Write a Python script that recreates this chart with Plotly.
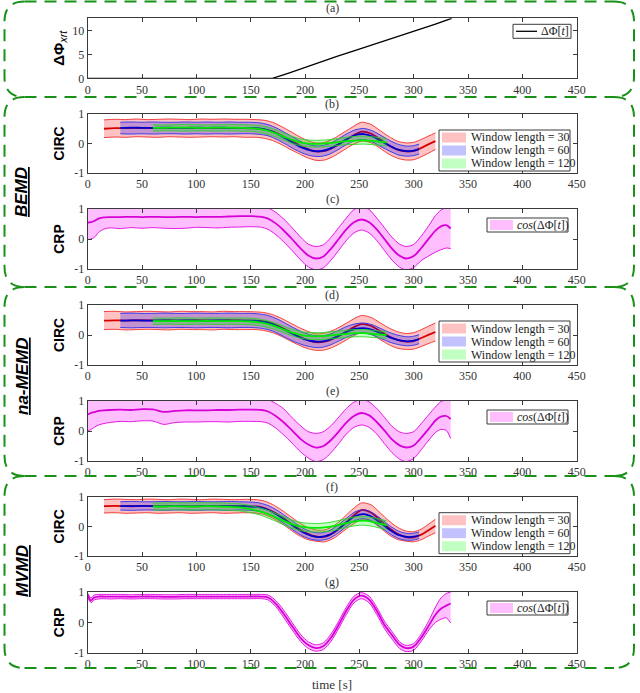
import plotly.graph_objects as go

W, H = 640, 693

# ---------------- data ----------------
x_ticks = [0, 50, 100, 150, 200, 250, 300, 350, 400, 450]
corr_ticks = [-1, 0, 1]
corr_ticktext = ['-1', '0', '1']
phase_ticks = [0, 5, 10]
panel_tags = ['(a)', '(b)', '(c)', '(d)', '(e)', '(f)', '(g)']
methods = ['BEMD', 'na-MEMD', 'MVMD']
window_names = ['Window length = 30', 'Window length = 60', 'Window length = 120']

# (a) phase difference
t_phase = [0, 170, 185, 200, 215, 230, 245, 260, 275, 290, 305, 320, 335]
dphi_xrt = [0, 0, 1.1, 2.3, 3.4, 4.6, 5.7, 6.8, 7.9, 9.0, 10.2, 11.3, 12.5]

# time grids of the windowed CIRC curves
t_w30 = [15, 25, 35, 45, 55, 65, 75, 85, 95, 105, 115, 125, 135, 145, 155, 162, 170, 178,
         186, 194, 202, 210, 218, 226, 234, 242, 252, 261, 269, 277, 285, 293, 300, 307, 314, 320]
t_w60 = [30, 40, 50, 60, 70, 80, 90, 100, 110, 120, 130, 140, 150, 158, 166, 174, 182,
         190, 198, 206, 214, 222, 230, 238, 246, 254, 262, 270, 278, 286, 294, 300, 305]
t_w120 = [60, 70, 80, 90, 100, 110, 120, 130, 140, 150, 158, 166, 174, 182, 190, 198,
          206, 214, 222, 230, 238, 246, 254, 262, 270, 275]
# time grid of CRP
t_crp = [0, 3, 6, 10, 15, 20, 30, 40, 50, 60, 70, 80, 90, 100, 110, 120, 130, 140, 150, 160,
         166, 173, 180, 188, 196, 203, 210, 217, 224, 231, 238, 245, 252, 259, 266, 273, 280,
         287, 293, 300, 307, 314, 320, 325, 330, 334]

# ---- BEMD ----
bemd_w30_mean = [0.50, 0.52, 0.52, 0.53, 0.52, 0.52, 0.53, 0.53, 0.52, 0.52, 0.53, 0.53, 0.53, 0.52, 0.51,
                 0.48, 0.41, 0.28, 0.12, -0.04, -0.18, -0.27, -0.25, -0.13, 0.04, 0.22, 0.40, 0.33, 0.14,
                 -0.06, -0.21, -0.27, -0.25, -0.15, -0.02, 0.08]
bemd_w30_hi = [0.80, 0.82, 0.81, 0.83, 0.81, 0.82, 0.83, 0.82, 0.81, 0.83, 0.82, 0.83, 0.82, 0.82, 0.81,
               0.79, 0.72, 0.58, 0.42, 0.25, 0.10, 0.02, 0.04, 0.16, 0.34, 0.52, 0.72, 0.64, 0.44,
               0.24, 0.08, 0.02, 0.04, 0.14, 0.26, 0.36]
bemd_w30_lo = [0.20, 0.22, 0.21, 0.23, 0.22, 0.21, 0.23, 0.22, 0.21, 0.22, 0.23, 0.22, 0.23, 0.21, 0.21,
               0.18, 0.10, -0.03, -0.19, -0.34, -0.48, -0.57, -0.56, -0.44, -0.26, -0.08, 0.08, 0.02,
               -0.16, -0.36, -0.50, -0.56, -0.55, -0.45, -0.32, -0.20]
bemd_w60_mean = [0.53, 0.54, 0.53, 0.53, 0.54, 0.53, 0.53, 0.54, 0.53, 0.54, 0.53, 0.53, 0.53,
                 0.51, 0.45, 0.33, 0.17, 0.00, -0.15, -0.24, -0.26, -0.19, -0.04, 0.14, 0.28, 0.32,
                 0.24, 0.08, -0.08, -0.21, -0.26, -0.24, -0.19]
bemd_w60_hi = [0.72, 0.73, 0.72, 0.73, 0.72, 0.72, 0.73, 0.72, 0.73, 0.72, 0.73, 0.72, 0.72,
               0.70, 0.64, 0.52, 0.36, 0.19, 0.04, -0.06, -0.08, -0.01, 0.14, 0.32, 0.46, 0.51,
               0.43, 0.27, 0.10, -0.03, -0.09, -0.07, -0.02]
bemd_w60_lo = [0.33, 0.32, 0.33, 0.32, 0.33, 0.33, 0.32, 0.33, 0.32, 0.33, 0.32, 0.33, 0.33,
               0.31, 0.26, 0.14, -0.02, -0.19, -0.33, -0.42, -0.44, -0.37, -0.22, -0.04, 0.10, 0.13,
               0.05, -0.11, -0.26, -0.39, -0.43, -0.41, -0.36]
bemd_w120_mean = [0.53, 0.53, 0.54, 0.54, 0.53, 0.53, 0.54, 0.54, 0.53, 0.52, 0.49, 0.43, 0.33,
                  0.21, 0.10, 0.02, -0.01, -0.01, 0.01, 0.05, 0.08, 0.10, 0.11, 0.09, 0.06, 0.04]
bemd_w120_hi = [0.64, 0.63, 0.64, 0.65, 0.64, 0.63, 0.64, 0.65, 0.64, 0.63, 0.61, 0.55, 0.45,
                0.33, 0.22, 0.14, 0.11, 0.11, 0.13, 0.17, 0.21, 0.24, 0.25, 0.23, 0.19, 0.17]
bemd_w120_lo = [0.42, 0.43, 0.43, 0.42, 0.43, 0.43, 0.42, 0.43, 0.42, 0.41, 0.37, 0.31, 0.21,
                0.09, -0.02, -0.09, -0.12, -0.12, -0.10, -0.07, -0.04, -0.03, -0.02, -0.04, -0.07, -0.09]
bemd_crp_mean = [0.55, 0.56, 0.60, 0.68, 0.72, 0.73, 0.73, 0.74, 0.73, 0.74, 0.73, 0.73, 0.74, 0.73,
                 0.74, 0.74, 0.75, 0.76, 0.76, 0.74, 0.68, 0.52, 0.30, 0.00, -0.32, -0.55, -0.65,
                 -0.58, -0.32, 0.00, 0.32, 0.56, 0.65, 0.56, 0.32, 0.00, -0.32, -0.56, -0.65, -0.57,
                 -0.30, 0.02, 0.28, 0.42, 0.46, 0.35]
bemd_crp_hi = [1.10, 1.10, 1.12, 1.14, 1.12, 1.10, 1.11, 1.10, 1.10, 1.11, 1.10, 1.11, 1.10, 1.10,
               1.11, 1.12, 1.12, 1.12, 1.11, 1.10, 1.04, 0.89, 0.68, 0.38, 0.06, -0.17, -0.25,
               -0.19, 0.06, 0.38, 0.70, 0.98, 1.06, 0.98, 0.70, 0.38, 0.06, -0.17, -0.25, -0.18,
               0.10, 0.45, 0.78, 0.96, 1.05, 1.05]
bemd_crp_lo = [-0.02, 0.00, 0.05, 0.22, 0.33, 0.37, 0.35, 0.38, 0.36, 0.38, 0.36, 0.35, 0.36, 0.39,
               0.38, 0.37, 0.39, 0.40, 0.41, 0.39, 0.32, 0.15, -0.08, -0.38, -0.70, -0.93, -1.03,
               -0.96, -0.70, -0.38, -0.05, 0.20, 0.30, 0.20, -0.05, -0.38, -0.70, -0.94, -1.03,
               -0.95, -0.72, -0.56, -0.44, -0.36, -0.30, -0.32]

# ---- na-MEMD ----
namemd_w30_mean = [0.48, 0.49, 0.48, 0.49, 0.49, 0.48, 0.49, 0.48, 0.49, 0.49, 0.48, 0.49, 0.49, 0.48, 0.48,
                   0.45, 0.38, 0.26, 0.11, -0.04, -0.16, -0.24, -0.22, -0.12, 0.03, 0.20, 0.36, 0.30,
                   0.13, -0.04, -0.16, -0.22, -0.20, -0.10, 0.01, 0.10]
namemd_w30_hi = [0.78, 0.79, 0.77, 0.78, 0.79, 0.78, 0.77, 0.79, 0.78, 0.78, 0.77, 0.79, 0.78, 0.78, 0.77,
                 0.75, 0.68, 0.56, 0.41, 0.26, 0.13, 0.04, 0.06, 0.16, 0.31, 0.48, 0.65, 0.58, 0.41,
                 0.24, 0.11, 0.05, 0.08, 0.18, 0.30, 0.40]
namemd_w30_lo = [0.18, 0.19, 0.17, 0.18, 0.19, 0.18, 0.17, 0.19, 0.18, 0.18, 0.17, 0.19, 0.18, 0.18, 0.18,
                 0.15, 0.08, -0.04, -0.19, -0.33, -0.45, -0.51, -0.50, -0.40, -0.25, -0.08, 0.08, 0.02,
                 -0.15, -0.32, -0.44, -0.48, -0.47, -0.38, -0.28, -0.20]
namemd_w60_mean = [0.48, 0.49, 0.48, 0.48, 0.49, 0.48, 0.49, 0.48, 0.48, 0.49, 0.48, 0.48, 0.48,
                   0.46, 0.41, 0.30, 0.16, 0.01, -0.12, -0.20, -0.22, -0.16, -0.04, 0.10, 0.20, 0.23,
                   0.17, 0.05, -0.08, -0.17, -0.21, -0.19, -0.14]
namemd_w60_hi = [0.72, 0.73, 0.72, 0.72, 0.73, 0.72, 0.72, 0.73, 0.72, 0.72, 0.73, 0.72, 0.72,
                 0.70, 0.65, 0.54, 0.39, 0.23, 0.09, 0.00, -0.03, 0.02, 0.14, 0.28, 0.37, 0.40,
                 0.34, 0.21, 0.08, -0.01, -0.06, -0.04, 0.01]
namemd_w60_lo = [0.25, 0.24, 0.25, 0.25, 0.24, 0.25, 0.25, 0.24, 0.25, 0.25, 0.24, 0.25, 0.25,
                 0.23, 0.18, 0.07, -0.08, -0.22, -0.33, -0.40, -0.42, -0.35, -0.22, -0.08, 0.03, 0.06,
                 0.00, -0.12, -0.24, -0.32, -0.36, -0.34, -0.29]
namemd_w120_mean = [0.46, 0.46, 0.47, 0.46, 0.46, 0.47, 0.46, 0.46, 0.46, 0.45, 0.42, 0.36, 0.27,
                    0.16, 0.06, -0.01, -0.04, -0.04, -0.02, 0.01, 0.04, 0.06, 0.06, 0.04, 0.01, 0.00]
namemd_w120_hi = [0.57, 0.56, 0.57, 0.57, 0.56, 0.57, 0.57, 0.56, 0.57, 0.56, 0.53, 0.47, 0.38,
                  0.27, 0.17, 0.10, 0.08, 0.08, 0.10, 0.13, 0.16, 0.18, 0.18, 0.16, 0.13, 0.11]
namemd_w120_lo = [0.35, 0.36, 0.36, 0.35, 0.36, 0.36, 0.35, 0.36, 0.35, 0.34, 0.31, 0.25, 0.16,
                  0.05, -0.05, -0.12, -0.15, -0.15, -0.13, -0.11, -0.08, -0.06, -0.06, -0.08, -0.10, -0.11]
namemd_crp_mean = [0.55, 0.60, 0.63, 0.67, 0.69, 0.70, 0.71, 0.70, 0.73, 0.72, 0.64, 0.67, 0.69, 0.69,
                   0.69, 0.70, 0.70, 0.71, 0.71, 0.70, 0.65, 0.50, 0.30, 0.02, -0.27, -0.45, -0.55,
                   -0.50, -0.30, -0.02, 0.28, 0.50, 0.60, 0.52, 0.30, 0.02, -0.28, -0.48, -0.55, -0.48,
                   -0.22, 0.08, 0.35, 0.48, 0.50, 0.40]
namemd_crp_hi = [1.10, 1.12, 1.12, 1.11, 1.10, 1.10, 1.11, 1.10, 1.12, 1.11, 1.06, 1.08, 1.10, 1.10,
                 1.10, 1.11, 1.10, 1.11, 1.11, 1.10, 1.05, 0.92, 0.75, 0.45, 0.17, -0.02, -0.08,
                 -0.02, 0.18, 0.46, 0.75, 0.96, 1.05, 0.97, 0.75, 0.46, 0.16, -0.03, -0.08, -0.02,
                 0.25, 0.55, 0.80, 0.98, 1.05, 1.05]
namemd_crp_lo = [0.00, 0.05, 0.12, 0.20, 0.25, 0.28, 0.32, 0.31, 0.34, 0.33, 0.22, 0.28, 0.30, 0.30,
                 0.31, 0.31, 0.30, 0.32, 0.32, 0.31, 0.26, 0.10, -0.12, -0.40, -0.70, -0.90, -1.02,
                 -0.95, -0.72, -0.42, -0.10, 0.12, 0.20, 0.12, -0.10, -0.42, -0.72, -0.94, -1.02,
                 -0.92, -0.62, -0.30, -0.05, 0.05, 0.02, -0.25]

# ---- MVMD ----
mvmd_w30_mean = [0.68, 0.69, 0.68, 0.68, 0.69, 0.68, 0.68, 0.69, 0.68, 0.68, 0.69, 0.68, 0.68, 0.68, 0.67,
                 0.62, 0.50, 0.33, 0.12, -0.08, -0.24, -0.34, -0.35, -0.22, 0.00, 0.28, 0.55, 0.46,
                 0.21, -0.05, -0.25, -0.36, -0.37, -0.28, -0.12, 0.02]
mvmd_w30_hi = [0.90, 0.92, 0.91, 0.90, 0.92, 0.91, 0.90, 0.92, 0.91, 0.90, 0.92, 0.91, 0.90, 0.91, 0.90,
               0.86, 0.74, 0.56, 0.35, 0.14, -0.03, -0.12, -0.12, 0.01, 0.24, 0.52, 0.79, 0.72,
               0.46, 0.19, -0.03, -0.16, -0.18, -0.09, 0.08, 0.24]
mvmd_w30_lo = [0.45, 0.46, 0.44, 0.45, 0.46, 0.44, 0.45, 0.46, 0.44, 0.45, 0.46, 0.44, 0.45, 0.46, 0.45,
               0.40, 0.28, 0.11, -0.10, -0.30, -0.44, -0.50, -0.52, -0.41, -0.20, 0.02, 0.22, 0.16,
               -0.04, -0.28, -0.44, -0.50, -0.52, -0.45, -0.32, -0.22]
mvmd_w60_mean = [0.68, 0.68, 0.69, 0.68, 0.68, 0.69, 0.68, 0.68, 0.69, 0.68, 0.68, 0.68, 0.67,
                 0.64, 0.55, 0.40, 0.20, -0.01, -0.20, -0.32, -0.36, -0.29, -0.11, 0.13, 0.34, 0.41,
                 0.31, 0.10, -0.12, -0.29, -0.36, -0.35, -0.30]
mvmd_w60_hi = [0.83, 0.84, 0.83, 0.83, 0.84, 0.83, 0.83, 0.84, 0.83, 0.83, 0.84, 0.83, 0.82,
               0.79, 0.70, 0.55, 0.35, 0.14, -0.06, -0.18, -0.22, -0.15, 0.03, 0.27, 0.49, 0.56,
               0.46, 0.25, 0.02, -0.16, -0.24, -0.23, -0.19]
mvmd_w60_lo = [0.55, 0.54, 0.55, 0.55, 0.54, 0.55, 0.55, 0.54, 0.55, 0.55, 0.54, 0.55, 0.54,
               0.50, 0.41, 0.26, 0.06, -0.15, -0.33, -0.44, -0.47, -0.41, -0.24, -0.01, 0.20, 0.26,
               0.17, -0.04, -0.25, -0.41, -0.47, -0.46, -0.41]
mvmd_w120_mean = [0.67, 0.67, 0.68, 0.67, 0.67, 0.68, 0.67, 0.66, 0.64, 0.58, 0.51, 0.41, 0.29,
                  0.16, 0.05, -0.02, -0.05, -0.05, -0.02, 0.04, 0.11, 0.17, 0.19, 0.15, 0.08, 0.04]
mvmd_w120_hi = [0.79, 0.79, 0.80, 0.79, 0.79, 0.80, 0.79, 0.78, 0.76, 0.70, 0.63, 0.54, 0.42,
                0.30, 0.19, 0.12, 0.10, 0.10, 0.13, 0.19, 0.26, 0.32, 0.34, 0.30, 0.23, 0.19]
mvmd_w120_lo = [0.55, 0.55, 0.56, 0.55, 0.55, 0.56, 0.55, 0.54, 0.52, 0.46, 0.39, 0.28, 0.16,
                0.02, -0.09, -0.16, -0.19, -0.19, -0.17, -0.11, -0.04, 0.02, 0.04, 0.00, -0.07, -0.11]
mvmd_crp_mean = [0.90, 0.72, 0.82, 0.85, 0.85, 0.85, 0.85, 0.84, 0.85, 0.85, 0.84, 0.84, 0.85, 0.85,
                 0.85, 0.85, 0.85, 0.85, 0.85, 0.85, 0.82, 0.62, 0.30, -0.12, -0.52, -0.75, -0.85,
                 -0.78, -0.50, -0.08, 0.38, 0.75, 0.88, 0.75, 0.38, -0.08, -0.42, -0.74, -0.85, -0.80,
                 -0.50, -0.10, 0.25, 0.45, 0.55, 0.62]
mvmd_crp_hi = [0.96, 0.80, 0.90, 0.92, 0.92, 0.92, 0.92, 0.91, 0.92, 0.92, 0.91, 0.91, 0.92, 0.92,
               0.92, 0.92, 0.92, 0.92, 0.92, 0.92, 0.90, 0.72, 0.42, 0.00, -0.40, -0.64, -0.74,
               -0.67, -0.38, 0.04, 0.50, 0.86, 0.98, 0.86, 0.50, 0.04, -0.30, -0.64, -0.76, -0.70,
               -0.38, 0.06, 0.50, 0.80, 0.95, 1.00]
mvmd_crp_lo = [0.82, 0.65, 0.74, 0.77, 0.78, 0.77, 0.78, 0.77, 0.78, 0.78, 0.77, 0.77, 0.78, 0.78,
               0.78, 0.78, 0.78, 0.78, 0.78, 0.78, 0.74, 0.52, 0.18, -0.24, -0.63, -0.86, -0.95,
               -0.89, -0.62, -0.20, 0.26, 0.64, 0.78, 0.64, 0.26, -0.20, -0.55, -0.86, -0.96, -0.92,
               -0.62, -0.25, 0.00, 0.10, 0.15, -0.02]

# ---------------- layout helpers (pixel geometry) ----------------
X0, X1 = 87.7, 576.7                      # plot area left/right (px)
panel_px = [(18.3, 78.3), (114, 173), (209, 269), (305, 365),
            (401, 461), (496.7, 556), (592, 652.7)]  # top/bottom (px)


def px(x):
    return x / W


def py(y):
    return 1 - y / H


SERIF = 'Liberation Serif'
SANS = 'Liberation Sans'
FRAME = '#3a3a3a'

# colours: (edge, mean line, band fill)
win_colors = [('rgb(240,45,45)', 'rgb(215,0,0)', 'rgba(255,0,0,0.24)'),
              ('rgb(45,45,240)', 'rgb(0,0,205)', 'rgba(0,0,255,0.24)'),
              ('rgb(40,215,40)', 'rgb(0,235,0)', 'rgba(0,255,0,0.24)')]
crp_colors = ('rgb(225,0,225)', 'rgb(215,0,215)', 'rgba(255,0,255,0.25)')

fig = go.Figure()


def axis_ids(k):
    return ('x' if k == 1 else f'x{k}'), ('y' if k == 1 else f'y{k}')


def add_band(k, t, mean, hi, lo, colors, name):
    xa, ya = axis_ids(k)
    edge, dark, fill = colors
    fig.add_trace(go.Scatter(x=t, y=lo, mode='lines', xaxis=xa, yaxis=ya, showlegend=False,
                             line=dict(color=edge, width=0.9, shape='spline', smoothing=0.8),
                             hoverinfo='skip'))
    fig.add_trace(go.Scatter(x=t, y=hi, mode='lines', xaxis=xa, yaxis=ya, name=name,
                             fill='tonexty', fillcolor=fill, showlegend=False,
                             line=dict(color=edge, width=0.9, shape='spline', smoothing=0.8)))
    fig.add_trace(go.Scatter(x=t, y=mean, mode='lines', xaxis=xa, yaxis=ya, showlegend=False,
                             line=dict(color=dark, width=1.8, shape='spline', smoothing=0.8)))


# (a)
fig.add_trace(go.Scatter(x=t_phase, y=dphi_xrt, mode='lines', name='ΔΦ[t]', showlegend=False,
                         line=dict(color='black', width=1.3)))

circ_sets = [
    [(t_w30, bemd_w30_mean, bemd_w30_hi, bemd_w30_lo),
     (t_w60, bemd_w60_mean, bemd_w60_hi, bemd_w60_lo),
     (t_w120, bemd_w120_mean, bemd_w120_hi, bemd_w120_lo)],
    [(t_w30, namemd_w30_mean, namemd_w30_hi, namemd_w30_lo),
     (t_w60, namemd_w60_mean, namemd_w60_hi, namemd_w60_lo),
     (t_w120, namemd_w120_mean, namemd_w120_hi, namemd_w120_lo)],
    [(t_w30, mvmd_w30_mean, mvmd_w30_hi, mvmd_w30_lo),
     (t_w60, mvmd_w60_mean, mvmd_w60_hi, mvmd_w60_lo),
     (t_w120, mvmd_w120_mean, mvmd_w120_hi, mvmd_w120_lo)],
]
crp_sets = [(bemd_crp_mean, bemd_crp_hi, bemd_crp_lo),
            (namemd_crp_mean, namemd_crp_hi, namemd_crp_lo),
            (mvmd_crp_mean, mvmd_crp_hi, mvmd_crp_lo)]

for m in range(3):
    k_circ = 2 + 2 * m
    for w in range(3):
        t, mean, hi, lo = circ_sets[m][w]
        add_band(k_circ, t, mean, hi, lo, win_colors[w], window_names[w])
    mean, hi, lo = crp_sets[m]
    add_band(k_circ + 1, t_crp, mean, hi, lo, crp_colors, 'cos(ΔΦ[t])')

# ---------------- axes ----------------
tickfont = dict(family=SERIF, size=12, color='#333333')
common = dict(showline=True, linecolor=FRAME, linewidth=1, mirror='ticks', ticks='inside',
              ticklen=4, tickcolor=FRAME, showgrid=False, zeroline=False, tickfont=tickfont,
              automargin=False, fixedrange=True)
layout_axes = {}
for k, (top, bot) in enumerate(panel_px, start=1):
    xa, ya = axis_ids(k)
    xname = 'xaxis' if k == 1 else f'xaxis{k}'
    yname = 'yaxis' if k == 1 else f'yaxis{k}'
    layout_axes[xname] = dict(common, domain=[px(X0), px(X1)], anchor=ya, range=[0, 450],
                              tickmode='array', tickvals=x_ticks)
    if k == 1:
        yax = dict(common, range=[0, 12.5], tickmode='array', tickvals=phase_ticks,
                   title=dict(text='<b>ΔΦ</b><sub><i>xrt</i></sub>', standoff=4,
                              font=dict(family=SANS, size=15, color='black')))
    else:
        label = 'CIRC' if k % 2 == 0 else 'CRP'
        yax = dict(common, range=[-1, 1], tickmode='array', tickvals=corr_ticks,
                   ticktext=corr_ticktext,
                   title=dict(text=f'<b>{label}</b>', standoff=6,
                              font=dict(family=SANS, size=14, color='black')))
    layout_axes[yname] = dict(yax, domain=[py(bot), py(top)], anchor=xa)

fig.update_layout(**layout_axes)

# ---------------- annotations and shapes ----------------
annotations = []
shapes = []
cx = (X0 + X1) / 2

for k, (top, bot) in enumerate(panel_px):
    annotations.append(dict(x=px(cx), y=py(top - 1), xref='paper', yref='paper',
                            text=panel_tags[k], showarrow=False, xanchor='center', yanchor='bottom',
                            font=dict(family=SERIF, size=12, color='#333333')))

annotations.append(dict(x=px(cx), y=py(684), xref='paper', yref='paper', text='time [s]',
                        showarrow=False, xanchor='center', yanchor='middle',
                        font=dict(family=SERIF, size=13, color='#333333')))

side_y = [192, 377, 571]
for m in range(3):
    annotations.append(dict(x=px(22), y=py(side_y[m]), xref='paper', yref='paper',
                            text=f'<b><i><span style="text-decoration:underline">{methods[m]}</span></i></b>',
                            textangle=-90, showarrow=False, xanchor='center', yanchor='middle',
                            font=dict(family=SANS, size=17, color='black')))


def rect(x0, y0, x1, y1, **kw):
    shapes.append(dict(type='rect', xref='paper', yref='paper', x0=px(x0), x1=px(x1),
                       y0=py(y1), y1=py(y0), **kw))


def legend_text(x, y, text):
    annotations.append(dict(x=px(x), y=py(y), xref='paper', yref='paper', text=text,
                            showarrow=False, xanchor='left', yanchor='middle',
                            font=dict(family=SERIF, size=12, color='#222222')))


# legend (a)
top_a = panel_px[0][0]
rect(513, top_a + 6, 571, top_a + 20, line=dict(color=FRAME, width=1), fillcolor='white')
shapes.append(dict(type='line', xref='paper', yref='paper', x0=px(516), x1=px(537),
                   y0=py(top_a + 13), y1=py(top_a + 13), line=dict(color='black', width=1.3)))
legend_text(539, top_a + 13, 'ΔΦ[<i>t</i>]')

for m in range(3):
    top = panel_px[1 + 2 * m][0]
    rect(439, top + 16, 570, top + 57, line=dict(color=FRAME, width=1), fillcolor='white')
    for w in range(3):
        yc = top + 23.5 + 13 * w
        rect(442, yc - 5, 466, yc + 5, line=dict(width=0), fillcolor=win_colors[w][2])
        legend_text(469, yc, window_names[w])
    top = panel_px[2 + 2 * m][0]
    rect(487, top + 9, 568, top + 23, line=dict(color=FRAME, width=1), fillcolor='white')
    rect(490, top + 11, 513, top + 21, line=dict(width=0), fillcolor=crp_colors[2])
    legend_text(515, top + 16, '<i>cos</i>(ΔΦ[<i>t</i>])')

# dashed rounded frames around the method groups
GREEN = 'rgb(25,145,25)'
dash = dict(color=GREEN, width=2, dash='12px,8px')
box_y = [1.5, 97, 287, 476, 668]
BL, BR, R = 4.5, 634, 20
for y in box_y:
    shapes.append(dict(type='line', xref='paper', yref='paper', x0=px(BL + R), x1=px(BR - R),
                       y0=py(y), y1=py(y), line=dash))
for i in range(4):
    t0, b0 = box_y[i], box_y[i + 1]
    for xs, xe in ((BL + R, BL), (BR - R, BR)):
        path = (f'M {px(xs)} {py(t0)} Q {px(xe)} {py(t0)} {px(xe)} {py(t0 + R)} '
                f'L {px(xe)} {py(b0 - R)} Q {px(xe)} {py(b0)} {px(xs)} {py(b0)}')
        shapes.append(dict(type='path', xref='paper', yref='paper', path=path, line=dash))

fig.update_layout(
    width=W, height=H,
    margin=dict(l=0, r=0, t=0, b=0),
    paper_bgcolor='white', plot_bgcolor='white',
    showlegend=False,
    annotations=annotations,
    shapes=shapes,
)

# the page's default body margin would shift the figure by 8 px
fig.write_html("out.html", config={'displayModeBar': False},
               post_script="document.body.style.margin='0px';")
